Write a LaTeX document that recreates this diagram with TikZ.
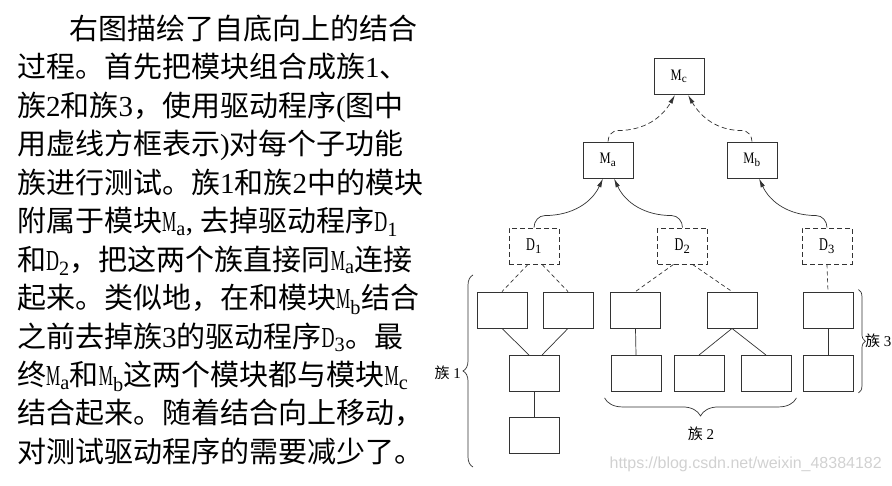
\documentclass[tikz,border=0pt]{standalone}
\usepackage{fontspec}
\setmainfont{Liberation Serif}
\newfontfamily\cjk{Noto Sans CJK SC}
\newfontfamily\wmfont{Liberation Sans}
\usetikzlibrary{arrows.meta, decorations.pathreplacing, positioning}

% letras latinas estreitas no texto e nas caixas
\newcommand\lt[1]{{\rmfamily #1}}
\newcommand\txtM[1]{{\rmfamily\scalebox{0.55}[1]{M}\textsubscript{#1}}}
\newcommand\txtD[1]{{\rmfamily\scalebox{0.62}[1]{D}\textsubscript{#1}}}
\newcommand\boxM[1]{\scalebox{0.78}[1]{M}\textsubscript{#1}}
\newcommand\boxD[1]{{\fontsize{18}{20}\selectfont\scalebox{0.68}[1]{D}\textsubscript{#1}}}

\begin{document}
\begin{tikzpicture}[
    x=1pt, y=1pt,
    modbox/.style={draw=black!80, line width=0.9pt, minimum width=50pt, minimum height=36pt, inner sep=0pt, font=\fontsize{16}{18}\selectfont},
    drvbox/.style={modbox, dash pattern=on 5pt off 3pt},
    link/.style={draw=black!80, line width=0.7pt},
    dlink/.style={link, dash pattern=on 4pt off 3pt},
    arr/.style={link, -{Latex[length=9pt, width=4.5pt]}},
    darr/.style={arr, dash pattern=on 5pt off 3pt},
    brc/.style={link, decorate, decoration={brace, amplitude=#1}},
    clus/.style={inner sep=0pt, font=\fontsize{15}{17}\selectfont},
    para/.style={anchor=base west, inner sep=0pt, font=\fontsize{29}{38}\selectfont\cjk}
]
    \useasboundingbox (0,0) rectangle (892,486);

    % 1. Texto
    \node[para] (ln1) at (69,446.5) {右图描绘了自底向上的结合};
    \node[para] (ln2) at (17,408.0) {过程。首先把模块组合成族\lt{1}、};
    \node[para] (ln3) at (17,369.6) {族\lt{2}和族\lt{3}，使用驱动程序\lt{(}图中};
    \node[para] (ln4) at (17,331.2) {用虚线方框表示\lt{)}对每个子功能};
    \node[para] (ln5) at (17,292.7) {族进行测试。族\lt{1}和族\lt{2}中的模块};
    \node[para] (ln6) at (17,254.3) {附属于模块\txtM{a}\lt{, }去掉驱动程序\txtD{1}};
    \node[para] (ln7) at (17,215.8) {和\txtD{2}，把这两个族直接同\txtM{a}连接};
    \node[para] (ln8) at (17,177.4) {起来。类似地，在和模块\txtM{b}结合};
    \node[para] (ln9) at (17,138.9) {之前去掉族\lt{3}的驱动程序\txtD{3}。最};
    \node[para] (ln10) at (17,100.5) {终\txtM{a}和\txtM{b}这两个模块都与模块\txtM{c}};
    \node[para] (ln11) at (17,62.0) {结合起来。随着结合向上移动，};
    \node[para] (ln12) at (17,23.6) {对测试驱动程序的需要减少了。};

    % 2. Modulos de cima
    \node[modbox] (Mc) at (679,409.5) {\boxM{c}};
    \node[modbox] (Ma) at (608,326) {\boxM{a}};
    \node[modbox] (Mb) at (752,326) {\boxM{b}};

    % 3. Drivers (tracejados)
    \node[drvbox] (D1) at (534,240) {\boxD{1}};
    \node[drvbox] (D2) at (682.5,240) {\boxD{2}};
    \node[drvbox] (D3) at (827,240) {\boxD{3}};

    % 4. Modulos dos grupos
    \node[modbox] (A1) at (502,176) {};
    \node[modbox] (A2) at (568,176) {};
    \node[modbox] (B1) at (635.5,176) {};
    \node[modbox] (B2) at (732,176) {};
    \node[modbox] (C1) at (828,176) {};
    \node[modbox] (A3) at (534.5,112.5) {};
    \node[modbox] (B3) at (636,112.5) {};
    \node[modbox] (B4) at (699,112.5) {};
    \node[modbox] (B5) at (766,112.5) {};
    \node[modbox] (C2) at (828,112.5) {};
    \node[modbox] (A4) at (534.5,50.5) {};

    % 5. Ligacoes
    \draw[dlink] ([xshift=-6]D1.south) -- (A1.north);
    \draw[dlink] ([xshift=8]D1.south) -- (A2.north);
    \draw[dlink] ([xshift=-9]D2.south) -- (B1.north);
    \draw[dlink] ([xshift=10]D2.south) -- (B2.north);
    \draw[dlink] (D3.south) -- (C1.north);

    \draw[link] (A1.south) -- ([xshift=-5.5]A3.north);
    \draw[link] (A2.south) -- ([xshift=7.5]A3.north);
    \draw[link] (A3.south) -- (A4.north);
    \draw[link] (B1.south) -- (B3.north);
    \draw[link] (B2.south) -- (B4.north);
    \draw[link] (B2.south) -- (B5.north);
    \draw[link] (C1.south) -- (C2.north);

    % 6. Setas curvas
    \draw[arr] (D1.north) to[out=90,in=180] ++(11,12) to[out=0,in=-115] ([xshift=-5]Ma.south);
    \draw[arr] (D2.north) to[out=90,in=0] ++(-11,12) to[out=180,in=-65] ([xshift=6]Ma.south);
    \draw[arr] (D3.north) to[out=90,in=0] ++(-11,12) to[out=180,in=-65] ([xshift=7]Mb.south);
    \draw[darr] (Ma.north) to[out=90,in=180] ++(10,11) to[out=0,in=-120] ([xshift=-4]Mc.south);
    \draw[darr] (Mb.north) to[out=90,in=0] ++(-10,11) to[out=180,in=-60] ([xshift=9]Mc.south);

    % 7. Chaves dos grupos
    \draw[brc=10pt] (473,19) -- (473,211);
    \draw[brc=18pt] ([shift={(5,-6)}]B5.south east) -- ([shift={(-6,-6)}]B3.south west);
    \draw[brc=7pt] ([shift={(5,2)}]C1.north east) -- ([shift={(5,-1)}]C2.south east);

    \node[clus, anchor=east] (f1) at (461,113) {{\cjk 族} 1};
    \node[clus] (f2) at (701,52) {{\cjk 族} 2};
    \node[clus, anchor=west] (f3) at (865,145) {{\cjk 族} 3};

    % 8. Marca d'agua
    \node[anchor=base east, inner sep=0pt, text=black!18, font=\wmfont\fontsize{16}{18}\selectfont] (wm) at (882,17) {https://blog.csdn.net/weixin\_48384182};

\end{tikzpicture}
\end{document}
